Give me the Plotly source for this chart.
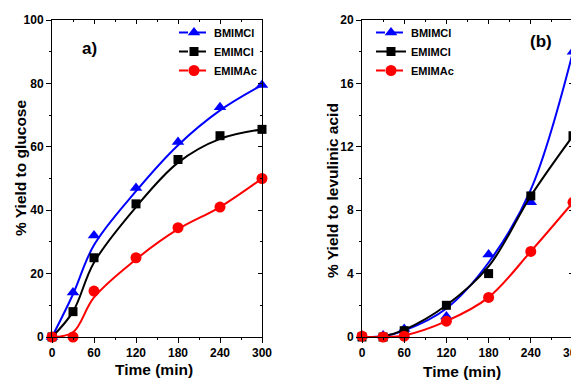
import plotly.graph_objects as go

time = [0, 30, 60, 120, 180, 240, 300]
# measured points
glu_bmim = [0, 14, 32, 47, 61.5, 72.5, 79.5]
glu_emimcl = [0, 8, 25, 42, 56, 63.5, 65.5]
glu_emimac = [0, 0, 14.5, 25, 34.5, 41, 50]
la_bmim = [0.1, 0.1, 0.5, 1.3, 5.2, 8.5, 18]
la_emimcl = [0, 0, 0.4, 2, 4, 8.9, 12.7]
la_emimac = [0.05, 0, 0.05, 1, 2.5, 5.4, 8.5]
# fitted curves
glu_bmim_fit = [0, 13.5, 29, 46, 60.5, 71.5, 79.5]
glu_emimcl_fit = [0, 8, 23.5, 41, 55, 62.5, 65.5]
glu_emimac_fit = [0, 1.5, 12.5, 24.5, 34, 41, 50]
la_bmim_fit = [0, 0.05, 0.4, 1.8, 4.7, 9.3, 18]
la_emimcl_fit = [0, 0.05, 0.45, 2.0, 4.45, 8.9, 12.7]
la_emimac_fit = [0, 0, 0.1, 1.0, 2.5, 5.4, 8.5]
names = ["BMIMCl", "EMIMCl", "EMIMAc"]
x_ticks = [0, 60, 120, 180, 240, 300]
x_minor = [30, 90, 150, 210, 270]

colors = ["#0000ff", "#000000", "#ff0000"]
symbols = ["triangle-up", "square", "circle"]
msize = [11, 9, 11]

fig = go.Figure()

def add_panel(series, fits, xa, ya, legend, dashes):
    for i, ys in enumerate(series):
        fig.add_trace(go.Scatter(x=time, y=fits[i], mode="lines", line=dict(color=colors[i], width=2, shape="spline", smoothing=1.0),
                                 xaxis=xa, yaxis=ya, showlegend=False, hoverinfo="skip"))
        fig.add_trace(go.Scatter(x=time, y=ys, mode="markers", marker=dict(color=colors[i], symbol=symbols[i], size=msize[i]),
                                 xaxis=xa, yaxis=ya, showlegend=False, cliponaxis=False))
    for i in range(3):
        fig.add_trace(go.Scatter(x=[None], y=[None], mode="lines+markers", name=names[i],
                                 line=dict(color=colors[i], width=2, dash=dashes[i]),
                                 marker=dict(color=colors[i], symbol=symbols[i], size=msize[i]),
                                 xaxis=xa, yaxis=ya, legend=legend))

add_panel([glu_bmim, glu_emimcl, glu_emimac], [glu_bmim_fit, glu_emimcl_fit, glu_emimac_fit], "x", "y", "legend", ["dash", "dash", "dash"])
add_panel([la_bmim, la_emimcl, la_emimac], [la_bmim_fit, la_emimcl_fit, la_emimac_fit], "x2", "y2", "legend2", ["dash", "solid", "dash"])

font = "Liberation Sans, Arial, sans-serif"
W, H, OFF = 571, 372, 8

def px(x):
    return (x - OFF) / W

def py(y):
    return 1 - (y - OFF) / H

def ax(**kw):
    d = dict(showline=True, linecolor="black", linewidth=1, mirror=True, ticks="outside", ticklen=5,
             tickcolor="black", showgrid=False, zeroline=False, automargin=False, ticklabeloverflow="allow",
             tickfont=dict(family=font, size=12, color="black", weight="bold"))
    d.update(kw)
    return d

def mirror_ax(**kw):
    d = dict(showline=False, ticks="inside", ticklen=4, tickcolor="black", showgrid=False, zeroline=False,
             showticklabels=False, automargin=False)
    d.update(kw)
    return d

xd1 = [px(52), px(262)]
xd2 = [px(362), px(573)]
yd = [py(337), py(20)]
minor_x = dict(tickvals=x_minor, ticklen=2, tickcolor="black")

def label(text, x, y, angle=0, size=15.5):
    return dict(text="<b>" + text + "</b>", x=px(x), y=py(y), xref="paper", yref="paper", showarrow=False,
                xanchor="center", yanchor="middle", textangle=angle, font=dict(family=font, size=size, color="black"))

fig.update_layout(
    width=W, height=H, margin=dict(l=0, r=0, t=0, b=0),
    plot_bgcolor="white", paper_bgcolor="white",
    xaxis=ax(domain=xd1, range=[0, 300], tickvals=x_ticks, minor=dict(ticks="outside", **minor_x)),
    yaxis=ax(domain=yd, range=[0, 100], dtick=20,
             minor=dict(dtick=10, ticks="outside", ticklen=2, tickcolor="black")),
    xaxis2=ax(domain=xd2, range=[0, 300], tickvals=x_ticks, anchor="y2", minor=dict(ticks="outside", **minor_x)),
    yaxis2=ax(domain=yd, range=[0, 20], dtick=4, anchor="x2",
              minor=dict(dtick=2, ticks="outside", ticklen=2, tickcolor="black")),
    xaxis3=mirror_ax(domain=xd1, range=[0, 300], tickvals=x_ticks, overlaying="x", side="top", anchor="y",
                     minor=dict(ticks="inside", **minor_x)),
    yaxis3=mirror_ax(domain=yd, range=[0, 100], dtick=20, overlaying="y", side="right", anchor="x",
                     minor=dict(dtick=10, ticks="inside", ticklen=2, tickcolor="black")),
    xaxis4=mirror_ax(domain=xd2, range=[0, 300], tickvals=x_ticks, overlaying="x2", side="top", anchor="y2",
                     minor=dict(ticks="inside", **minor_x)),
    yaxis4=mirror_ax(domain=yd, range=[0, 20], dtick=4, overlaying="y2", side="right", anchor="x2",
                     minor=dict(dtick=2, ticks="inside", ticklen=2, tickcolor="black")),
    legend=dict(x=px(262), y=py(18), xanchor="right", yanchor="top", bgcolor="rgba(0,0,0,0)",
                font=dict(family=font, size=11, color="black", weight="bold"), tracegroupgap=0, itemwidth=30),
    legend2=dict(x=px(371), y=py(18), xanchor="left", yanchor="top", bgcolor="rgba(0,0,0,0)",
                 font=dict(family=font, size=11, color="black", weight="bold"), tracegroupgap=0, itemwidth=30),
    annotations=[
        label("a)", 89, 48, size=17),
        label("(b)", 541, 41, size=17),
        label("Time (min)", 154, 369),
        label("Time (min)", 462, 371),
        label("% Yield to glucose", 20, 168, angle=-90),
        label("% Yield to levulinic acid", 332, 191, angle=-90),
    ],
)

# dummy traces so the mirror axes are drawn
fig.add_trace(go.Scatter(x=[None], y=[None], xaxis="x3", yaxis="y3", showlegend=False, hoverinfo="skip"))
fig.add_trace(go.Scatter(x=[None], y=[None], xaxis="x4", yaxis="y4", showlegend=False, hoverinfo="skip"))

fig.write_html("out.html")
